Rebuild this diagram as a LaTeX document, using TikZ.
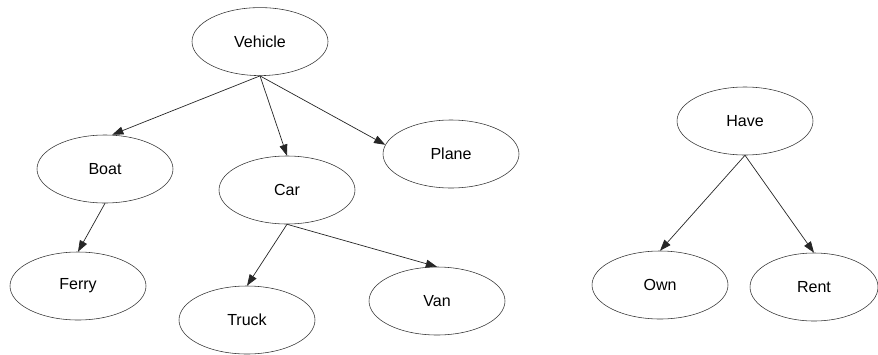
\documentclass[tikz,border=0pt]{standalone}
\usepackage{fontspec}
\setmainfont{Liberation Sans}
\usetikzlibrary{arrows.meta,shapes.geometric}

\begin{document}
\begin{tikzpicture}[
    item/.style={draw=black!80, ellipse, minimum width=3.4cm, minimum height=1.7cm,
                 inner sep=0pt, font=\fontsize{11.4}{13}\selectfont},
    link/.style={draw=black!85, line width=0.5pt, -{Triangle[length=0.28cm,width=0.2cm]}}
]

\useasboundingbox (0,0) rectangle (21.95,8.85);

% vehicle tree
\node[item] (vehicle) at (6.5,7.81) {Vehicle};
\node[item] (boat) at (2.625,4.625) {Boat};
\node[item] (car) at (7.175,4.1) {Car};
\node[item] (plane) at (11.275,5.0) {Plane};
\node[item] (ferry) at (1.95,1.7) {Ferry};
\node[item] (truck) at (6.175,0.85) {Truck};
\node[item] (van) at (10.925,1.325) {Van};

% have tree
\node[item] (have) at (18.625,5.825) {Have};
\node[item] (own) at (16.5,1.725) {Own};
\node[item, minimum width=3.2cm] (rent) at (20.35,1.675) {Rent};

\draw[link] (vehicle.south) -- ([xshift=0.18cm]boat.north);
\draw[link] (vehicle.south) -- (car.north);
\draw[link] (vehicle.south) -- (plane.172);
\draw[link] (boat.south) -- (ferry.north);
\draw[link] (car.south) -- (truck.north);
\draw[link] (car.south) -- (van.north);

\draw[link] (have.south) -- (own.north);
\draw[link] (have.south) -- (rent.north);

\end{tikzpicture}
\end{document}
